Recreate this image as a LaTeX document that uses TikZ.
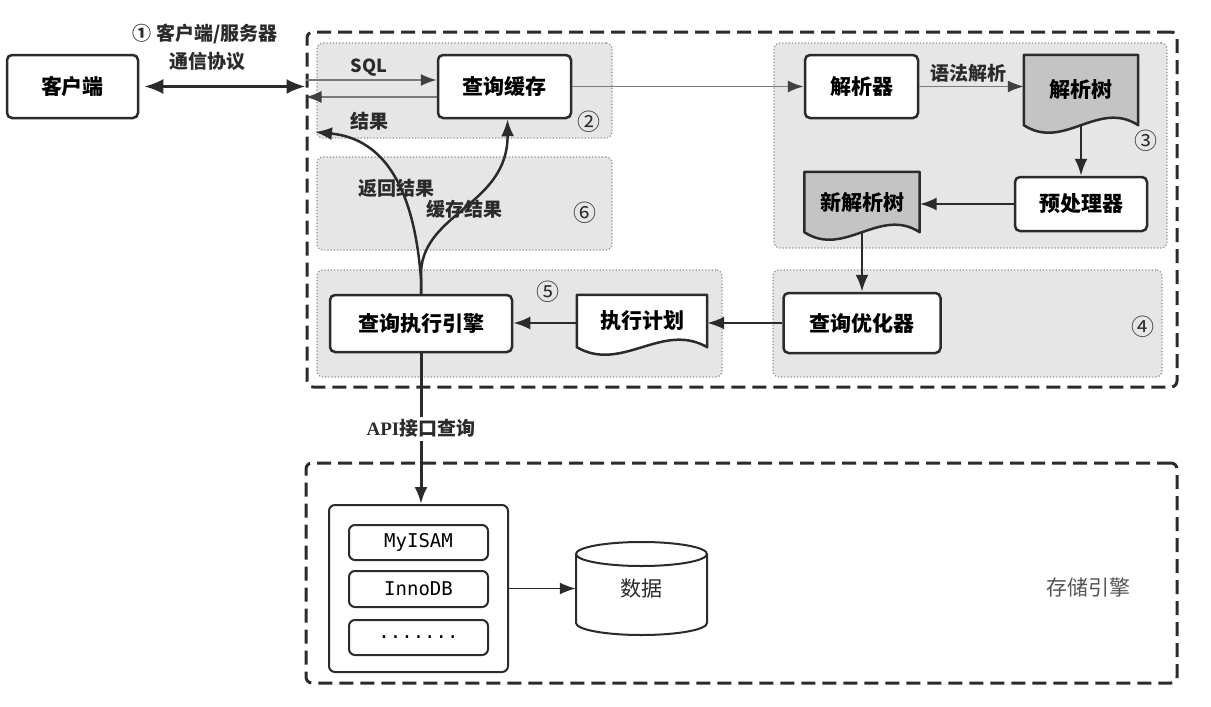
\documentclass[tikz,border=0pt]{standalone}
\usepackage{fontspec}
\usetikzlibrary{arrows.meta,calc}
\newfontfamily\cjk{Noto Sans CJK SC}
\newfontfamily\monof{DejaVu Sans Mono}
\newfontfamily\apif{Liberation Serif}
\definecolor{dk}{HTML}{2B2B2B}
\definecolor{rgfill}{HTML}{E6E6E6}
\definecolor{rgline}{HTML}{8E8E8E}
\definecolor{docfill}{HTML}{C4C4C4}
\definecolor{gline}{HTML}{7A7A7A}
\definecolor{lblgray}{HTML}{555555}
\newcommand\boxfont{\cjk\bfseries\fontsize{21}{24}\selectfont}
\newcommand\lblfont{\cjk\bfseries\fontsize{19}{22}\selectfont}
\newcommand\numfont{\cjk\fontsize{23}{25}\selectfont}
\newcommand\plainfont{\cjk\fontsize{21}{24}\selectfont}
\newcommand\engfont{\monof\fontsize{19}{22}\selectfont}
\pgfdeclarelayer{back}
\pgfdeclarelayer{mid}
\pgfsetlayers{back,mid,main}
\tikzset{
  box/.style={draw=dk, line width=2.5pt, rounded corners=5pt, fill=white, inner sep=0pt, font=\boxfont},
  region/.style={draw=rgline, dotted, line width=1.2pt, fill=rgfill, rounded corners=6pt, inner sep=0pt},
  outerbox/.style={draw=dk, line width=3pt, dash pattern=on 14pt off 7pt, rounded corners=6pt, inner sep=0pt},
  doctext/.style={inner sep=0pt, font=\boxfont},
  docline/.style={draw=dk, line width=2.5pt, line join=round},
  thickarr/.style={draw=dk, line width=2.5pt, -{Latex[length=17pt,width=13pt]}},
  grayarr/.style={draw=gline, line width=1.8pt, -{Latex[length=16pt,width=12pt,color=dk!90]}},
  lbl/.style={font=\lblfont, inner sep=1pt, text=dk},
  num/.style={font=\numfont, text=dk},
  engbox/.style={draw=dk, line width=2pt, rounded corners=6pt, fill=white, inner sep=0pt, minimum width=139pt, minimum height=35pt, font=\engfont}
}
\newcommand\docpath[3]{%
  \draw[docline, fill=#2] (#1.north west) -- (#1.north east) -- (#1.south east)
    .. controls +(-#3,-26) and +(#3,26) .. (#1.south west) -- cycle;}
\begin{document}
\begin{tikzpicture}[x=1pt,y=-1pt]
\useasboundingbox (0,0) rectangle (1211,707);

% ---------- regions and outer boxes ----------
\begin{pgfonlayer}{back}
  \fill[white] (0,0) rectangle (1211,707);
  \node[outerbox, minimum width=870pt, minimum height=355pt] (server) at (742,209.5) {};
  \node[outerbox, minimum width=871pt, minimum height=220pt] (storage) at (741.5,573) {};
  \node[region, minimum width=295pt, minimum height=95pt]  (reg2) at (464.5,90.5) {};
  \node[region, minimum width=295pt, minimum height=93pt]  (reg6) at (464.5,203.5) {};
  \node[region, minimum width=405pt, minimum height=107pt] (reg5) at (519.5,323.5) {};
  \node[region, minimum width=393pt, minimum height=205pt] (reg3) at (970.5,145.5) {};
  \node[region, minimum width=389pt, minimum height=107pt] (reg4) at (967.5,323.5) {};
\end{pgfonlayer}

% ---------- client ----------
\node[box, minimum width=131pt, minimum height=63pt] (client) at (72.5,86.5) {客户端};
\node[lbl] (proto1) at (205,34) {① 客户端/服务器};
\node[lbl] (proto2) at (207,61) {通信协议};
\draw[draw=dk, line width=3pt, {Latex[length=19pt,width=15pt]}-{Latex[length=19pt,width=15pt]}]
  (client.east) ++(5,0) -- (client.east -| server.west);

% ---------- step 2 ----------
\node[box, minimum width=133pt, minimum height=63pt] (cache) at (504.5,86.5) {查询缓存};
\coordinate (ySQL) at (0,80);
\coordinate (yRet) at (0,97);
\coordinate (resEnd) at (315,132);
\draw[grayarr] (server.west |- ySQL) -- (cache.west |- ySQL);
\node[lbl, font=\cjk\bfseries\fontsize{18}{20}\selectfont] (sql) at (369,68) {SQL};
\draw[grayarr] (cache.west |- yRet) -- (server.west |- yRet);
\node[lbl] (res) at (369,121) {结果};
\node[num] (n2) at (589,122) {②};

% ---------- step 3 ----------
\node[box, minimum width=113pt, minimum height=63pt] (parser) at (861.5,86.5) {解析器};
\node[doctext, minimum width=114pt, minimum height=70pt] (ptree) at (1081,90) {解析树};
\node[box, minimum width=132pt, minimum height=54pt] (pre) at (1081,204) {预处理器};
\node[doctext, minimum width=115pt, minimum height=60pt] (ntree) at (862,202) {新解析树};
\begin{pgfonlayer}{mid}
  \docpath{ptree}{docfill}{40}
  \docpath{ntree}{docfill}{40}
\end{pgfonlayer}
\draw[grayarr] (cache.east) -- (parser.west);
\draw[grayarr] (parser.east) -- (parser.east -| ptree.west);
\node[lbl] (syn) at (968,73) {语法解析};
\draw[thickarr] (ptree.south) -- (ptree.south |- pre.north);
\draw[thickarr] (pre.west) -- (pre.west -| ntree.east);
\node[num] (n3) at (1146,141) {③};

% ---------- step 4 ----------
\node[box, minimum width=157pt, minimum height=60pt] (opt) at (862,323) {查询优化器};
\draw[thickarr] (ntree.south) -- (ntree.south |- opt.north);
\node[num] (n4) at (1143,327) {④};

% ---------- step 5 ----------
\node[doctext, minimum width=130pt, minimum height=52pt] (plan) at (642,321) {执行计划};
\begin{pgfonlayer}{mid}
  \docpath{plan}{white}{45}
\end{pgfonlayer}
\node[box, minimum width=182pt, minimum height=57pt] (exec) at (421,323.5) {查询执行引擎};
\draw[thickarr] (opt.west) -- (opt.west -| plan.east);
\draw[thickarr] (plan.west |- opt.west) -- (opt.west -| exec.east);
\node[num] (n5) at (548,292) {⑤};

% ---------- step 6 ----------
\draw[thickarr] (exec.north) -- ++(0,-15) .. controls (416,215) and (398,140) .. (resEnd);
\draw[thickarr] (exec.north) -- ++(0,-22) .. controls (424,212) and (508,205) .. ([xshift=3pt]cache.south);
\node[lbl] (retres) at (396,188) {返回结果};
\node[lbl] (cacheres) at (464,209) {缓存结果};
\node[num] (n6) at (585,213) {⑥};

% ---------- storage ----------
\node[draw=dk, line width=2pt, rounded corners=6pt, fill=white, minimum width=179pt, minimum height=167pt, inner sep=0pt] (eng) at (418.5,588.5) {};
\node[engbox] (myisam) at (418.5,542.5) {MyISAM};
\node[engbox, minimum height=36pt] (innodb) at (418.5,589) {InnoDB};
\node[engbox] (dots) at (418.5,637.5) {.......};
\draw[draw=dk, line width=3pt, -{Latex[length=17pt,width=13pt]}]
  (exec.south) -- node[fill=white, inner sep=3pt, font=\lblfont, text=dk] (api) {{\apif\bfseries API}接口查询} (exec.south |- eng.north);

\node[inner sep=0pt, minimum width=131pt, minimum height=93pt, font=\plainfont, text=dk] (data) at (641.5,588.5) {\raisebox{-8pt}{数据}};
\begin{pgfonlayer}{mid}
  \draw[draw=dk, line width=2pt, fill=white] (576,554) -- (576,623) arc[start angle=180, end angle=360, x radius=65.5pt, y radius=12pt] -- (707,554);
  \draw[draw=dk, line width=2pt, fill=white] (641.5,554) ellipse [x radius=65.5pt, y radius=12pt];
\end{pgfonlayer}
\draw[draw=dk, line width=1.6pt, -{Latex[length=16pt,width=12pt]}] (eng.east) -- (eng.east -| data.west);
\node[font=\plainfont, text=lblgray] (se) at (1088,587) {存储引擎};
\end{tikzpicture}
\end{document}
